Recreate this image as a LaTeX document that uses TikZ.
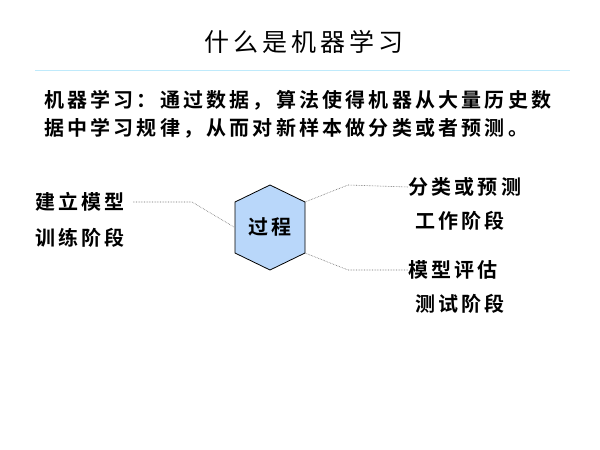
\documentclass[tikz,border=0pt]{standalone}
\usepackage{fontspec}
\newfontfamily\cjk[LetterSpace=16,BoldFont={Noto Sans CJK SC Bold}]{Noto Sans CJK SC}
\definecolor{hexfill}{RGB}{185,215,250}
\begin{document}
\begin{tikzpicture}[x=1pt,y=-1pt,
  txt/.style={font=\cjk\bfseries\fontsize{20}{22}\selectfont,inner sep=0pt,anchor=west},
  conn/.style={draw=gray!80!black,densely dotted,line width=0.6pt}]
\useasboundingbox (0,0) rectangle (600,450);
\fill[white] (0,0) rectangle (600,450);
\node[font=\cjk\fontsize{25}{28}\selectfont,inner sep=0pt] (title) at (304,42) {什么是机器学习};
\draw[cyan!25,line width=1pt] (35,70) -- (570,70);
\node[txt] (l1) at (44,100) {机器学习：通过数据，算法使得机器从大量历史数};
\node[txt] (l2) at (44,128) {据中学习规律，从而对新样本做分类或者预测。};
\fill[hexfill,draw=black,line width=0.8pt] (270,185) -- (305,202) -- (305,253) -- (270,270) -- (235,253) -- (235,202) -- cycle;
\node[font=\cjk\bfseries\fontsize{20}{22}\selectfont,inner sep=0pt] (hex) at (270,227) {过程};
\node[txt] (a) at (35,202) {建立模型};
\node[txt] (b) at (35,238) {训练阶段};
\node[txt] (c) at (408,187) {分类或预测};
\node[txt] (d) at (415,221) {工作阶段};
\node[txt] (e) at (408,270) {模型评估};
\node[txt] (f) at (415,304) {测试阶段};
\coordinate (hl) at (234,227);
\coordinate (hur) at (305,202);
\coordinate (hlr) at (305,253);
\draw[conn] (133,202) -- (192,202) -- (hl);
\draw[conn] (hur) -- (348,185) -- (c.west);
\draw[conn] (hlr) -- (348,270) -- (e.west);
\end{tikzpicture}
\end{document}
